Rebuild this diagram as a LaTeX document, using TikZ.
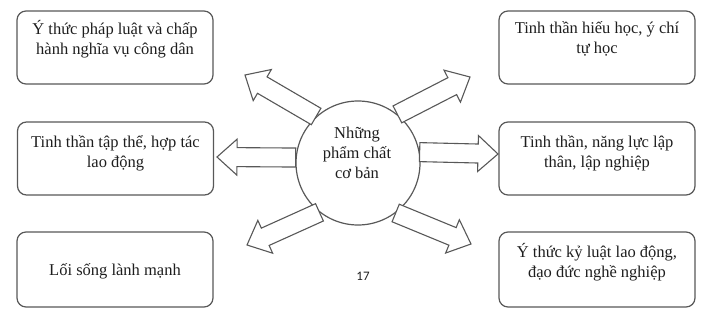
\documentclass[tikz,border=0pt]{standalone}
\usepackage{fontspec}
\setmainfont{Liberation Serif}
\newfontfamily\numfont{Carlito}
\usetikzlibrary{calc}
\definecolor{linec}{HTML}{585858}
\definecolor{textc}{HTML}{1E1E1E}
\newcommand{\blockarr}[2]{%
  \coordinate (ah) at ($(#2)!20pt!(#1)$);
  \draw[arr] ($(#1)!9.5pt!90:(#2)$) -- ($(ah)!9.5pt!90:(#2)$) -- ($(ah)!18pt!90:(#2)$) -- (#2)
    -- ($(ah)!18pt!-90:(#2)$) -- ($(ah)!9.5pt!-90:(#2)$) -- ($(#1)!9.5pt!-90:(#2)$) -- cycle;}
\begin{document}
\begin{tikzpicture}[x=1pt,y=-1pt,
  box/.style={draw=linec, line width=1.2pt, rounded corners=9pt, minimum width=196pt, minimum height=73pt, inner sep=0pt},
  txt/.style={align=center, font=\fontsize{16.5}{20}\selectfont, text=textc, inner sep=0pt, anchor=base},
  arr/.style={draw=linec, line width=1.1pt, fill=white, line join=miter},
  ]
\useasboundingbox (0,0) rectangle (710,313);
% boxes
\node[box] (b1) at (115,47.5) {};
\node[box] (b2) at (115.5,158.5) {};
\node[box, minimum height=75pt] (b3) at (115,269.5) {};
\node[box] (b4) at (597,47.5) {};
\node[box] (b5) at (597,158.5) {};
\node[box, minimum height=75pt] (b6) at (597,269.5) {};
% texts (anchor = baseline of last line)
\node[txt] (t1) at (115,55) {Ý thức pháp luật và chấp\\hành nghĩa vụ công dân};
\node[txt] (t2) at (115.5,167) {Tinh thần tập thể, hợp tác\\lao động};
\node[txt] (t3) at (115,275) {Lối sống lành mạnh};
\node[txt] (t4) at (597,54) {Tinh thần hiếu học, ý chí\\tự học};
\node[txt] (t5) at (597,167) {Tinh thần, năng lực lập\\thân, lập nghiệp};
\node[txt] (t6) at (597,277) {Ý thức kỷ luật lao động,\\đạo đức nghề nghiệp};
% centre
\node[draw=linec, line width=1.2pt, circle, minimum size=124pt, inner sep=0pt] (c) at (358,163) {};
\node[txt] (ct) at (357,178) {Những\\phẩm chất\\cơ bản};
\node[font=\numfont\fontsize{13}{15}\selectfont, text=textc, anchor=base, inner sep=0pt] (pg) at (363,280) {17};
% arrow tips
\coordinate (p1) at (245,75);
\coordinate (p2) at (217,157);
\coordinate (p3) at (247,245);
\coordinate (p4) at (470,77);
\coordinate (p5) at (498,154);
\coordinate (p6) at (471,244);
\blockarr{c.132}{p1}
\blockarr{c.175}{p2}
\blockarr{c.232}{p3}
\blockarr{c.51}{p4}
\blockarr{c.10}{p5}
\blockarr{c.307}{p6}
\end{tikzpicture}
\end{document}
